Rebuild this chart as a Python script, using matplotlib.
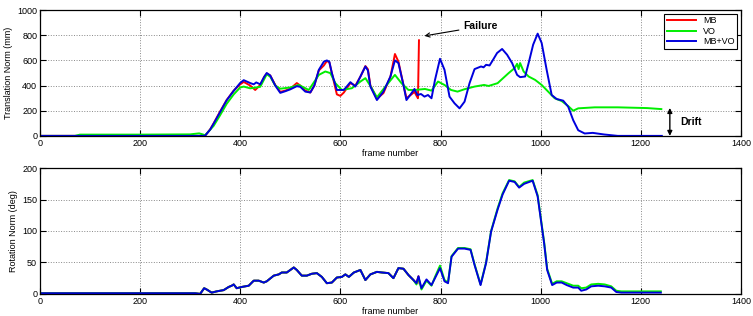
import matplotlib
matplotlib.use("Agg")
import matplotlib.pyplot as plt

plt.rcParams['font.family'] = ['Liberation Sans', 'DejaVu Sans']

# translation norm (mm)
tr_mbvo_f = [0, 325, 330, 340, 347, 360, 373, 387, 400, 407, 420, 427, 432, 440, 448, 453, 460, 470, 480,
             490, 500, 513, 520, 530, 540, 548, 557, 567, 573, 578, 583, 593, 607, 620, 630, 640, 650, 655,
             660, 673, 686, 700, 709, 716, 726, 732, 742, 748, 754, 761, 768, 775, 782, 789, 799, 808, 818,
             828, 838, 848, 858, 868, 881, 886, 891, 898, 903, 913, 923, 933, 943, 953, 959, 969, 976, 985,
             994, 1002, 1012, 1022, 1032, 1045, 1055, 1065, 1075, 1088, 1104, 1127, 1154, 1242]
tr_mbvo = [0, 0, 2, 50, 98, 191, 284, 358, 421, 443, 420, 410, 425, 410, 470, 500, 480, 400, 342,
           355, 370, 395, 390, 352, 345, 400, 525, 590, 600, 590, 499, 365, 365, 427, 392, 472, 552, 520,
           392, 285, 352, 472, 600, 579, 405, 285, 339, 373, 325, 333, 312, 325, 299, 445, 613, 525, 312,
           259, 219, 272, 419, 531, 552, 545, 565, 560, 592, 659, 691, 645, 579, 485, 467, 472, 579, 725,
           813, 739, 525, 325, 293, 280, 232, 125, 45, 19, 24, 11, 0, 0]

tr_mb_f = [0, 325, 330, 340, 347, 360, 373, 387, 400, 407, 420, 430, 440, 448, 453, 460, 470, 480, 490,
           500, 513, 520, 530, 540, 548, 557, 567, 573, 578, 583, 593, 600, 607, 620, 630, 640, 650, 655,
           660, 673, 686, 700, 709, 716, 726, 732, 742, 748, 752, 755, 757]
tr_mb = [0, 0, 2, 52, 100, 195, 285, 360, 410, 429, 400, 365, 405, 470, 495, 480, 405, 350, 360,
         375, 420, 400, 360, 345, 400, 520, 560, 595, 585, 500, 330, 318, 345, 420, 400, 470, 555, 530,
         400, 295, 340, 470, 651, 590, 405, 300, 330, 350, 320, 299, 760]

tr_vo_f = [0, 70, 80, 200, 300, 318, 325, 330, 347, 360, 373, 387, 400, 407, 420, 440, 453, 460, 470,
           480, 500, 517, 537, 557, 570, 580, 590, 603, 623, 640, 650, 660, 673, 690, 709, 722, 736, 749,
           769, 782, 795, 808, 821, 834, 848, 868, 887, 896, 914, 936, 948, 953, 956, 959, 966, 976, 989,
           1002, 1015, 1028, 1042, 1055, 1065, 1075, 1108, 1154, 1213, 1241]
tr_vo = [0, 0, 10, 10, 12, 20, 12, 5, 80, 165, 255, 330, 385, 392, 378, 390, 490, 470, 400,
         375, 385, 405, 365, 485, 512, 499, 419, 365, 379, 432, 459, 397, 307, 392, 485, 419, 365, 365,
         373, 360, 432, 405, 365, 352, 371, 392, 405, 397, 419, 499, 539, 573, 531, 579, 512, 472, 445,
         405, 352, 299, 277, 237, 200, 219, 227, 227, 221, 213]

# rotation norm (deg)
rot_f = [0, 310, 320, 328, 333, 343, 353, 367, 377, 383, 387, 393, 403, 417, 427, 437, 447, 453, 467,
         477, 483, 493, 500, 507, 513, 523, 533, 543, 553, 563, 573, 583, 593, 603, 610, 617, 627, 640,
         650, 660, 673, 683, 696, 706, 716, 726, 736, 746, 752, 756, 762, 772, 782, 789, 799, 808, 815,
         822, 835, 848, 860, 868, 880, 891, 901, 914, 924, 937, 948, 957, 967, 984, 994, 1007, 1013, 1023,
         1032, 1042, 1052, 1065, 1075, 1081, 1091, 1101, 1115, 1128, 1141, 1151, 1161, 1240]
rot_mbvo = [1, 1, 0, 9, 7, 2, 4, 6, 11, 13, 15, 9, 11, 13, 21, 21, 18, 20, 29,
            31, 34, 34, 38, 42, 38, 29, 29, 32, 33, 27, 17, 18, 26, 27, 31, 27, 34, 38,
            22, 31, 35, 34, 33, 25, 41, 40, 30, 22, 17, 28, 9, 23, 14, 25, 41, 20, 17,
            59, 72, 72, 70, 46, 14, 49, 99, 134, 158, 180, 178, 169, 175, 180, 155, 80, 38, 14,
            18, 18, 14, 10, 10, 5, 7, 12, 13, 12, 10, 3, 2, 2]
rot_vo = [1, 1, 0, 9, 7, 2, 4, 6, 11, 13, 15, 9, 11, 13, 21, 21, 18, 20, 29,
          31, 34, 34, 38, 42, 38, 29, 29, 32, 33, 27, 17, 18, 26, 27, 31, 27, 34, 38,
          22, 31, 35, 34, 33, 25, 41, 40, 30, 22, 15, 26, 7, 21, 13, 27, 45, 22, 18,
          60, 73, 73, 71, 47, 15, 50, 100, 136, 160, 181, 179, 170, 177, 181, 157, 82, 40, 16,
          20, 20, 17, 13, 13, 9, 10, 15, 16, 15, 12, 5, 4, 4]
rot_mb_f = rot_f[:50] + [758]
rot_mb = rot_mbvo[:50] + [17]

fig = plt.figure(figsize=(7.53, 3.16), dpi=100)
ax1 = fig.add_axes([0.053, 0.570, 0.931, 0.398])
ax2 = fig.add_axes([0.053, 0.070, 0.931, 0.398])

lw = 1.4
ax1.plot(tr_mb_f, tr_mb, color='#ff0000', lw=lw, label='MB')
ax1.plot(tr_vo_f, tr_vo, color='#00ee00', lw=lw, label='VO')
ax1.plot(tr_mbvo_f, tr_mbvo, color='#0000dd', lw=lw, label='MB+VO')

ax2.plot(rot_mb_f, rot_mb, color='#ff0000', lw=lw)
ax2.plot(rot_f, rot_vo, color='#00ee00', lw=lw)
ax2.plot(rot_f, rot_mbvo, color='#0000dd', lw=lw)

for ax, ymax, ystep, ylab in [(ax1, 1000, 200, 'Translation Norm (mm)'),
                              (ax2, 200, 50, 'Rotation Norm (deg)')]:
    ax.set_xlim(0, 1400)
    ax.set_ylim(0, ymax)
    ax.set_xticks(range(0, 1401, 200))
    ax.set_yticks(range(0, ymax + 1, ystep))
    ax.tick_params(direction='in', top=True, right=True, labelsize=6.5, length=4, width=0.8, pad=2)
    ax.grid(True, linestyle=':', color='#888888', lw=0.7)
    ax.set_xlabel('frame number', fontsize=6.5, labelpad=1)
    ax.set_ylabel(ylab, fontsize=6.5, labelpad=3)
    for s in ax.spines.values():
        s.set_linewidth(0.9)

leg = ax1.legend(loc='upper right', fontsize=6.5, fancybox=False, edgecolor='black',
                 framealpha=1, handlelength=3.2, borderaxespad=0.4, borderpad=0.3,
                 labelspacing=0.15)
leg.get_frame().set_linewidth(0.8)

ax1.annotate('Failure', xy=(768, 795), xytext=(845, 870), fontsize=7.5, fontweight='bold',
             va='center', ha='left',
             arrowprops=dict(arrowstyle='->', color='black', lw=0.8, shrinkA=1, shrinkB=0))
ax1.annotate('', xy=(1258, 0), xytext=(1258, 222),
             arrowprops=dict(arrowstyle='<|-|>', color='black', lw=1.0, mutation_scale=7,
                             shrinkA=0, shrinkB=0))
ax1.text(1278, 110, 'Drift', fontsize=7.5, fontweight='bold', va='center', ha='left')

fig.savefig('out.png', dpi=100)
